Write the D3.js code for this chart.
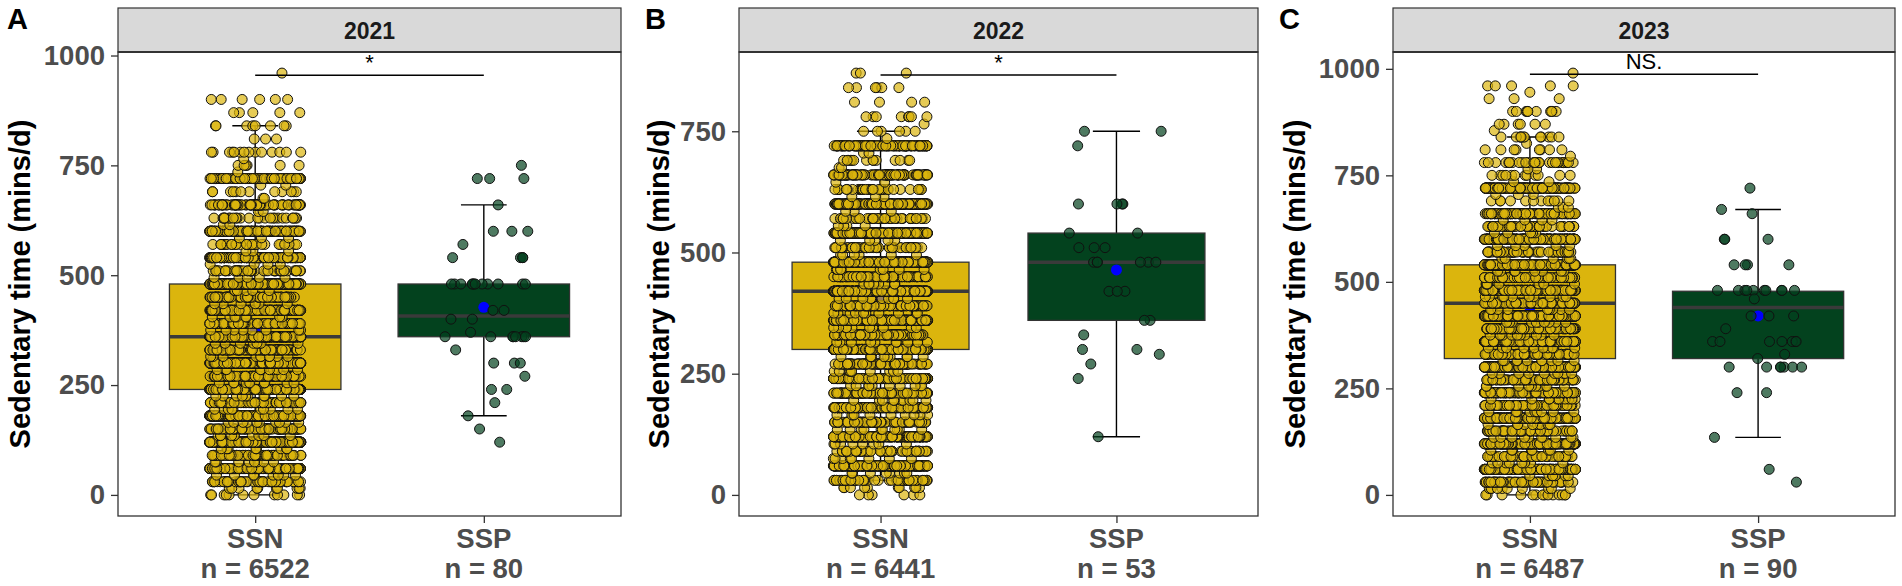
<!DOCTYPE html>
<html>
<head>
<meta charset="utf-8">
<script src="https://cdn.jsdelivr.net/npm/d3@7"></script>
<style>
  body { margin: 0; background: #fff; }
  svg { display: block; }
</style>
</head>
<body>
<svg id="chart" width="1902" height="586"></svg>
<script>
// ---- data ----
const years = ["2021", "2022", "2023"];
const panelLetters = ["A", "B", "C"];
const groups = ["SSN", "SSP"];
const groupN = [[6522, 80], [6441, 53], [6487, 90]];

// SSN answers come in 15-minute steps; counts per level are estimated from the density of the rows
const ssnLevels = [0, 15, 30, 45, 60, 75, 90, 105, 120, 135, 150, 165, 180, 195, 210, 225, 240, 255, 270, 285,
  300, 315, 330, 345, 360, 375, 390, 405, 420, 435, 450, 465, 480, 495, 510, 525, 540, 555, 570, 585,
  600, 615, 630, 645, 660, 675, 690, 705, 720, 735, 750, 765, 780, 795, 810, 825, 840, 855, 870, 885,
  900, 915, 930, 945, 960, 975, 990];
const ssnCounts2021 = [12, 10, 60, 8, 560, 8, 70, 8, 600, 10, 90, 10, 660, 10, 110, 10, 680, 10, 110, 10,
  640, 10, 100, 8, 600, 8, 90, 8, 500, 6, 80, 6, 470, 5, 50, 4, 280, 3, 30, 3,
  245, 2, 25, 2, 90, 2, 12, 2, 150, 1, 6, 1, 14, 0, 3, 0, 8, 0, 5, 0,
  6, 0, 0, 0, 1, 0, 0];
const ssnCounts2022 = [6, 10, 50, 8, 420, 8, 60, 8, 460, 10, 80, 10, 520, 10, 100, 10, 600, 10, 110, 10,
  660, 10, 110, 10, 680, 10, 110, 10, 625, 8, 100, 8, 560, 6, 60, 5, 300, 4, 40, 3,
  260, 3, 30, 2, 110, 2, 14, 2, 150, 1, 6, 1, 8, 0, 4, 0, 6, 0, 3, 0,
  0, 0, 0, 0, 0, 0, 0];
const ssnCounts2023 = [14, 10, 60, 8, 350, 8, 60, 8, 380, 10, 70, 10, 420, 10, 80, 10, 490, 10, 90, 10,
  580, 10, 100, 10, 600, 10, 110, 10, 600, 10, 110, 10, 600, 8, 90, 8, 460, 6, 60, 5,
  420, 5, 50, 4, 170, 3, 12, 3, 220, 2, 12, 2, 30, 1, 8, 1, 12, 1, 6, 0,
  10, 0, 3, 1, 5, 0, 1];

const sspValues2021 = [750, 720, 720, 720, 660, 600, 600, 600, 570, 540, 540, 540, 540,
  480, 480, 480, 480, 480, 480, 480, 480, 480, 480, 480, 480,
  420, 420, 400, 400, 370, 360, 360, 360, 360, 360, 360, 360, 360,
  330, 300, 300, 300, 270, 240, 240, 210, 180, 150, 120];
const sspValues2022 = [750, 750, 720, 600, 600, 600, 600, 540, 540, 510, 510, 510,
  480, 480, 480, 480, 480, 480, 420, 420, 420, 360, 360, 330, 300, 300, 290, 270, 240, 120];
const sspValues2023 = [720, 670, 660, 600, 600, 600, 540, 540, 540, 540,
  480, 480, 480, 480, 480, 480, 480, 480, 480, 480, 460, 420, 420, 420, 390,
  360, 360, 360, 360, 360, 360, 360, 330, 320, 300, 300, 300, 300, 300, 300, 300,
  240, 240, 135, 60, 30];

// box statistics [lower whisker, Q1, median, Q3, upper whisker]
const ssnBox = [[0, 240, 360, 480, 840], [30, 300, 420, 480, 750], [0, 320, 450, 540, 840]];
const sspBox = [[180, 360, 407, 480, 660], [120, 360, 480, 540, 750], [135, 320, 440, 478, 670]];
const ssnMean = [375, 403, 430];
const sspMean = [427, 464, 420];

const sigLabels = ["*", "*", "NS."];
const sigY = [955, 866, 987];

const yTicks2021 = [0, 250, 500, 750, 1000];
const yTicks2022 = [0, 250, 500, 750];
const yTicks2023 = [0, 250, 500, 750, 1000];

// ---- layout ----
const FONT = "'Liberation Sans', Arial, Helvetica, sans-serif";
const stripTop = 8, plotTop = 52, plotBottom = 516;
const panels = [
  { left: 118, right: 621, letterX: 7, titleX: 20 },
  { left: 739, right: 1258, letterX: 645, titleX: 659 },
  { left: 1393, right: 1895, letterX: 1279, titleX: 1295 }
];
const ssnCounts = [ssnCounts2021, ssnCounts2022, ssnCounts2023];
const sspValues = [sspValues2021, sspValues2022, sspValues2023];
const yTicks = [yTicks2021, yTicks2022, yTicks2023];
const fills = { SSN: "#DBB50D", SSP: "#03421E" };

const svg = d3.select("#chart");

years.forEach((yr, p) => {
  const P = panels[p];
  const ssnVals = [];
  ssnLevels.forEach((v, i) => { for (let k = 0; k < ssnCounts[p][i]; k++) ssnVals.push(v); });
  const vals = { SSN: ssnVals, SSP: sspValues[p] };
  const box = { SSN: ssnBox[p], SSP: sspBox[p] };
  const mean = { SSN: ssnMean[p], SSP: sspMean[p] };

  const all = ssnVals.concat(sspValues[p]);
  const lo = d3.min(all), hi = d3.max(all), pad = (hi - lo) * 0.05;
  const y = d3.scaleLinear().domain([lo - pad, hi + pad]).range([plotBottom, plotTop]);
  const x = d3.scalePoint().domain(groups).range([P.left, P.right]).padding(0.6);
  const step = x.step();

  const g = svg.append("g");

  // strip
  g.append("rect").attr("x", P.left).attr("y", stripTop)
    .attr("width", P.right - P.left).attr("height", plotTop - stripTop)
    .attr("fill", "#D9D9D9").attr("stroke", "#333").attr("stroke-width", 1.2);
  g.append("text").attr("x", (P.left + P.right) / 2).attr("y", 38.5)
    .attr("text-anchor", "middle").attr("font-family", FONT).attr("font-weight", "bold")
    .attr("font-size", 23).attr("fill", "#1a1a1a").text(yr);

  groups.forEach((grp, gi) => {
    const cx = x(grp), b = box[grp];
    // whiskers
    g.append("line").attr("x1", cx).attr("x2", cx).attr("y1", y(b[0])).attr("y2", y(b[4]))
      .attr("stroke", "#000").attr("stroke-width", 1.4);
    [b[0], b[4]].forEach(v => {
      g.append("line").attr("x1", cx - step * 0.1).attr("x2", cx + step * 0.1)
        .attr("y1", y(v)).attr("y2", y(v)).attr("stroke", "#000").attr("stroke-width", 1.4);
    });
    // box
    g.append("rect").attr("x", cx - step * 0.375).attr("width", step * 0.75)
      .attr("y", y(b[3])).attr("height", y(b[1]) - y(b[3]))
      .attr("fill", fills[grp]).attr("stroke", "#333").attr("stroke-width", 1.3);
    g.append("line").attr("x1", cx - step * 0.375).attr("x2", cx + step * 0.375)
      .attr("y1", y(b[2])).attr("y2", y(b[2])).attr("stroke", "#3a3a3a").attr("stroke-width", 3.5);
    // mean
    g.append("circle").attr("cx", cx).attr("cy", y(mean[grp])).attr("r", 5.5).attr("fill", "#0000FF");
    // jittered points
    const jit = d3.randomUniform.source(d3.randomLcg(0.137 + p * 0.21 + gi * 0.43))(-0.2 * step, 0.2 * step);
    g.append("g").selectAll("circle").data(vals[grp]).join("circle")
      .attr("cx", () => cx + jit()).attr("cy", d => y(d)).attr("r", 5)
      .attr("fill", fills[grp]).attr("fill-opacity", 0.7)
      .attr("stroke", "#111").attr("stroke-width", 1);
  });

  // significance bar
  const sy = y(sigY[p]);
  g.append("line").attr("x1", x("SSN")).attr("x2", x("SSP")).attr("y1", sy).attr("y2", sy)
    .attr("stroke", "#000").attr("stroke-width", 1.5);
  g.append("text").attr("x", (x("SSN") + x("SSP")) / 2).attr("y", sy - 5)
    .attr("text-anchor", "middle").attr("font-family", FONT).attr("font-size", 22)
    .attr("fill", "#000").text(sigLabels[p]);

  // panel border
  g.append("rect").attr("x", P.left).attr("y", plotTop)
    .attr("width", P.right - P.left).attr("height", plotBottom - plotTop)
    .attr("fill", "none").attr("stroke", "#333").attr("stroke-width", 1.3);
  g.append("line").attr("x1", P.left).attr("x2", P.right).attr("y1", plotTop).attr("y2", plotTop)
    .attr("stroke", "#333").attr("stroke-width", 2.2);

  // y axis
  const ya = g.append("g").attr("transform", `translate(${P.left},0)`)
    .call(d3.axisLeft(y).tickValues(yTicks[p]).tickSize(7).tickPadding(6).tickFormat(d3.format("d")));
  ya.select(".domain").remove();
  ya.attr("font-family", FONT);
  ya.selectAll(".tick line").attr("stroke", "#333").attr("stroke-width", 1.3);
  ya.selectAll(".tick text").attr("font-size", 27.5).attr("font-weight", "bold").attr("fill", "#4D4D4D");

  // x axis
  const xa = g.append("g").attr("transform", `translate(0,${plotBottom})`)
    .call(d3.axisBottom(x).tickSize(7).tickFormat(""));
  xa.select(".domain").remove();
  xa.selectAll(".tick line").attr("stroke", "#333").attr("stroke-width", 1.3);
  groups.forEach((grp, gi) => {
    const t = g.append("text").attr("text-anchor", "middle").attr("font-family", FONT)
      .attr("font-weight", "bold").attr("font-size", 27.5).attr("fill", "#4D4D4D");
    t.append("tspan").attr("x", x(grp)).attr("y", 548).text(grp);
    t.append("tspan").attr("x", x(grp)).attr("y", 578).text("n = " + groupN[p][gi]);
  });

  // y title
  g.append("text").attr("transform", `translate(${P.titleX},${(plotTop + plotBottom) / 2}) rotate(-90)`)
    .attr("text-anchor", "middle").attr("dominant-baseline", "central")
    .attr("font-family", FONT).attr("font-weight", "bold").attr("font-size", 29)
    .attr("fill", "#000").text("Sedentary time (mins/d)");

  // panel letter
  g.append("text").attr("x", P.letterX).attr("y", 29)
    .attr("font-family", FONT).attr("font-weight", "bold").attr("font-size", 29)
    .attr("fill", "#000").text(panelLetters[p]);
});
</script>
</body>
</html>
